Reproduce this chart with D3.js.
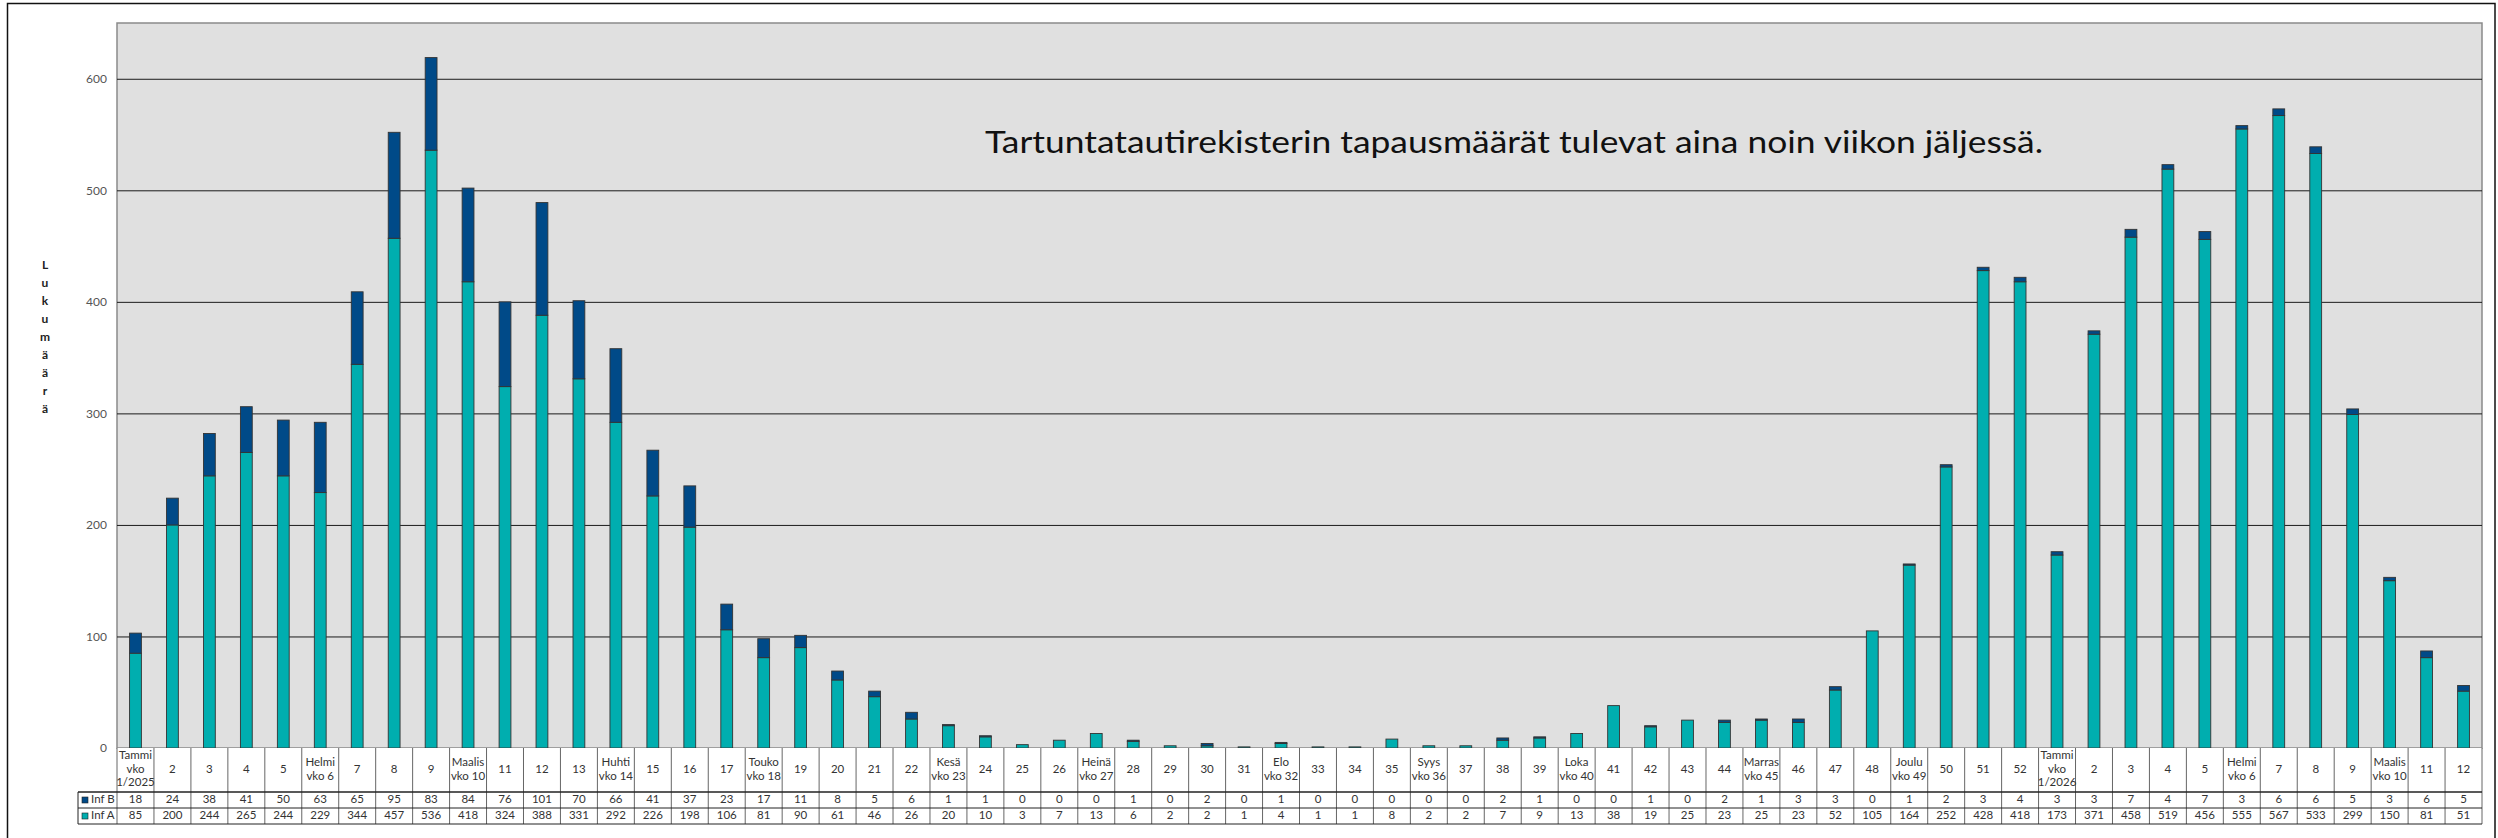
<!DOCTYPE html>
<html>
  <head>
    <meta charset="utf-8">
    <title></title>
    <script src="https://cdnjs.cloudflare.com/ajax/libs/d3/7.8.5/d3.min.js"></script>
    <style>
      body { margin: 0; background: #fff; }
      text { font-family: Lato, "Liberation Sans", sans-serif; }
    </style>
  </head>
  <body>
    <script type="text/javascript">

    // week labels (\n = line break in the table cell)
    const weekLabels = [
      "Tammi\nvko\n1/2025", "2", "3", "4", "5", "Helmi\nvko 6", "7", "8", "9", "Maalis\nvko 10",
      "11", "12", "13", "Huhti\nvko 14", "15", "16", "17", "Touko\nvko 18", "19", "20",
      "21", "22", "Kesä\nvko 23", "24", "25", "26", "Heinä\nvko 27", "28", "29", "30",
      "31", "Elo\nvko 32", "33", "34", "35", "Syys\nvko 36", "37", "38", "39", "Loka\nvko 40",
      "41", "42", "43", "44", "Marras\nvko 45", "46", "47", "48", "Joulu\nvko 49", "50",
      "51", "52", "Tammi\nvko\n1/2026", "2", "3", "4", "5", "Helmi\nvko 6", "7", "8",
      "9", "Maalis\nvko 10", "11", "12"
    ];
    const infB = [
      18, 24, 38, 41, 50, 63, 65, 95, 83, 84, 76, 101, 70, 66, 41, 37, 23, 17, 11, 8,
      5, 6, 1, 1, 0, 0, 0, 1, 0, 2, 0, 1, 0, 0, 0, 0, 0, 2, 1, 0, 0, 1,
      0, 2, 1, 3, 3, 0, 1, 2, 3, 4,
      3, 3, 7, 4, 7, 3, 6, 6, 5, 3, 6, 5
    ];
    const infA = [
      85, 200, 244, 265, 244, 229, 344, 457, 536, 418, 324, 388, 331, 292, 226, 198, 106, 81, 90, 61,
      46, 26, 20, 10, 3, 7, 13, 6, 2, 2, 1, 4, 1, 1, 8, 2, 2, 7, 9, 13, 38, 19,
      25, 23, 25, 23, 52, 105, 164, 252, 428, 418,
      173, 371, 458, 519, 456, 555, 567, 533, 299, 150, 81, 51
    ];
    const yTicks = [0, 100, 200, 300, 400, 500, 600];
    const seriesNames = ["Inf B", "Inf A"];
    const yTitle = "Lukumäärä";
    const note = "Tartuntatautirekisterin tapausmäärät tulevat aina noin viikon jäljessä.";

    let outerWidth = 2498;
    let outerHeight = 838;
    let plot = { left: 117, top: 23, right: 2482, bottom: 748 };
    let rowB = { top: 792, bottom: 808 };
    let rowA = { top: 808, bottom: 824 };
    let legendLeft = 78;
    let colorA = "#00AEAF";
    let colorB = "#004A88";

    let svg = d3.select("body").append("svg")
      .attr("width", outerWidth)
      .attr("height", outerHeight);

    // outer frame
    svg.append("rect")
      .attr("x", 7.5).attr("y", 3.5)
      .attr("width", 2495 - 7.5).attr("height", 860)
      .attr("fill", "#fff").attr("stroke", "#111").attr("stroke-width", 1.5);

    let idx = d3.range(weekLabels.length);

    let xCell = d3.scaleBand().domain(idx).range([plot.left, plot.right]).padding(0);
    let xBar = d3.scaleBand().domain(idx).range([plot.left, plot.right])
      .paddingInner(0.68).paddingOuter(0.34);
    let yScale = d3.scaleLinear().domain([0, 650]).range([plot.bottom, plot.top]);

    // plot area
    svg.append("rect")
      .attr("x", plot.left).attr("y", plot.top)
      .attr("width", plot.right - plot.left).attr("height", plot.bottom - plot.top)
      .attr("fill", "#E0E0E0").attr("stroke", "#8a8a8a").attr("stroke-width", 1.5);

    // gridlines + tick labels
    let yAxis = svg.append("g")
      .attr("transform", "translate(" + plot.left + ",0)")
      .call(d3.axisLeft(yScale).tickValues(yTicks).tickSize(-(plot.right - plot.left)).tickPadding(10));
    yAxis.select(".domain").remove();
    yAxis.selectAll(".tick line")
      .attr("stroke", (d) => d === 0 ? "none" : "#1a1a1a").attr("stroke-width", 1);
    yAxis.selectAll(".tick text")
      .attr("fill", "#555").style("font-size", "12px")
      .style("font-family", "Lato, 'Liberation Sans', sans-serif");

    // y title, one letter per line
    svg.append("g").selectAll("text")
      .data(yTitle.split(""))
      .join("text")
      .attr("x", 45)
      .attr("y", (d, i) => 266 + i * 18)
      .attr("text-anchor", "middle")
      .attr("dominant-baseline", "middle")
      .attr("font-weight", "bold")
      .attr("font-size", 12)
      .attr("fill", "#222")
      .text((d) => d);

    // stacked bars
    let rows = idx.map((i) => ({ i: i, A: infA[i], B: infB[i] }));
    let stacked = d3.stack().keys(["A", "B"])(rows);
    let colors = { A: colorA, B: colorB };

    svg.append("g").selectAll("g")
      .data(stacked)
      .join("g")
      .attr("fill", (s) => colors[s.key])
      .selectAll("rect")
      .data((s) => s.filter((d) => d[1] - d[0] > 0))
      .join("rect")
      .attr("x", (d) => xBar(d.data.i))
      .attr("width", xBar.bandwidth())
      .attr("y", (d) => yScale(d[1]))
      .attr("height", (d) => yScale(d[0]) - yScale(d[1]))
      .attr("stroke", "#333")
      .attr("stroke-width", 0.9);

    // note
    svg.append("text")
      .attr("x", 985).attr("y", 153)
      .attr("font-size", 30)
      .attr("fill", "#111")
      .attr("textLength", 1058)
      .attr("lengthAdjust", "spacingAndGlyphs")
      .text(note);

    // data table
    let table = svg.append("g");

    table.append("rect")
      .attr("x", plot.left).attr("y", plot.bottom)
      .attr("width", plot.right - plot.left).attr("height", rowB.top - plot.bottom)
      .attr("fill", "#fff");

    // column separators
    table.selectAll("line.col")
      .data(idx.concat([weekLabels.length]))
      .join("line")
      .attr("class", "col")
      .attr("x1", (i) => i < weekLabels.length ? xCell(i) : plot.right)
      .attr("x2", (i) => i < weekLabels.length ? xCell(i) : plot.right)
      .attr("y1", plot.bottom).attr("y2", rowA.bottom)
      .attr("stroke", "#666").attr("stroke-width", 1);

    // row lines
    [rowB.top, rowA.top, rowA.bottom].forEach((yy) => {
      table.append("line")
        .attr("x1", legendLeft).attr("x2", plot.right)
        .attr("y1", yy).attr("y2", yy)
        .attr("stroke", "#222").attr("stroke-width", yy === rowB.top ? 1.3 : 1);
    });
    table.append("line")
      .attr("x1", legendLeft).attr("x2", legendLeft)
      .attr("y1", rowB.top).attr("y2", rowA.bottom)
      .attr("stroke", "#222");

    // week labels
    let headMid = (plot.bottom + rowB.top) / 2;
    table.selectAll("text.week")
      .data(idx)
      .join("text")
      .attr("class", "week")
      .attr("text-anchor", "middle")
      .attr("font-size", 11.5)
      .attr("fill", "#333")
      .each(function (i) {
        let lines = weekLabels[i].split("\n");
        let t = d3.select(this);
        lines.forEach((ln, k) => {
          t.append("tspan")
            .attr("x", xCell(i) + xCell.bandwidth() / 2)
            .attr("y", headMid + (k - (lines.length - 1) / 2) * 13.5)
            .attr("dominant-baseline", "middle")
            .text(ln);
        });
      });

    // values
    let valueRows = [
      { name: seriesNames[0], vals: infB, row: rowB, color: colorB },
      { name: seriesNames[1], vals: infA, row: rowA, color: colorA }
    ];
    valueRows.forEach((r) => {
      let mid = (r.row.top + r.row.bottom) / 2;
      table.append("g").selectAll("text")
        .data(idx)
        .join("text")
        .attr("x", (i) => xCell(i) + xCell.bandwidth() / 2)
        .attr("y", mid)
        .attr("text-anchor", "middle")
        .attr("dominant-baseline", "middle")
        .attr("font-size", 11.5)
        .attr("fill", "#333")
        .text((i) => r.vals[i]);

      table.append("rect")
        .attr("x", 82).attr("y", mid - 3)
        .attr("width", 6).attr("height", 6)
        .attr("fill", r.color).attr("stroke", "#222").attr("stroke-width", 0.6);
      table.append("text")
        .attr("x", 91).attr("y", mid)
        .attr("dominant-baseline", "middle")
        .attr("font-size", 11.5)
        .attr("fill", "#333")
        .text(r.name);
    });

    </script>
  </body>
</html>
